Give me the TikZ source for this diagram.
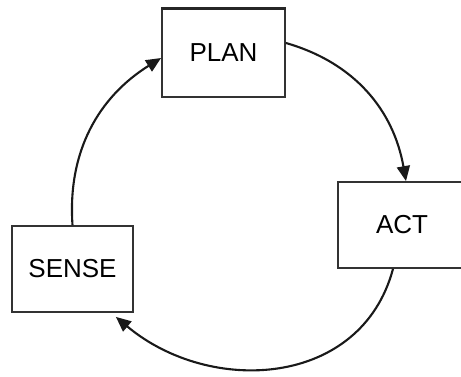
\documentclass[tikz,border=0pt]{standalone}
\usepackage{fontspec}
\setmainfont{Liberation Sans}
\usetikzlibrary{arrows.meta}
\begin{document}
\begin{tikzpicture}[x=1pt,y=1pt,
  box/.style={draw=black!80, line width=1.8pt, fill=white, minimum width=#1, inner sep=0pt,
    font=\fontsize{26}{30}\selectfont},
  flow/.style={line width=2.1pt, draw=black!90, -{Triangle[length=15pt,width=13pt]}}]
\clip (0,0) rectangle (461,376);
\node[box=123pt, minimum height=88pt] (plan) at (223.5,323) {PLAN};
\node[box=128pt, minimum height=86pt] (act) at (402,151) {ACT};
\node[box=121pt, minimum height=86pt] (sense) at (72.5,107) {SENSE};
\draw[line width=3pt, black!85] (plan.north west) -- (plan.north east);
\draw[flow] ([yshift=10pt]plan.east) to[out=-16, in=100] ([xshift=4pt]act.north);
\draw[flow] ([xshift=-9pt]act.south) to[out=-105, in=-40, looseness=1.12] ([xshift=-18pt,yshift=-4pt]sense.south east);
\draw[flow] (sense.north) to[out=94, in=-148] ([yshift=-5pt]plan.west);
\end{tikzpicture}
\end{document}
